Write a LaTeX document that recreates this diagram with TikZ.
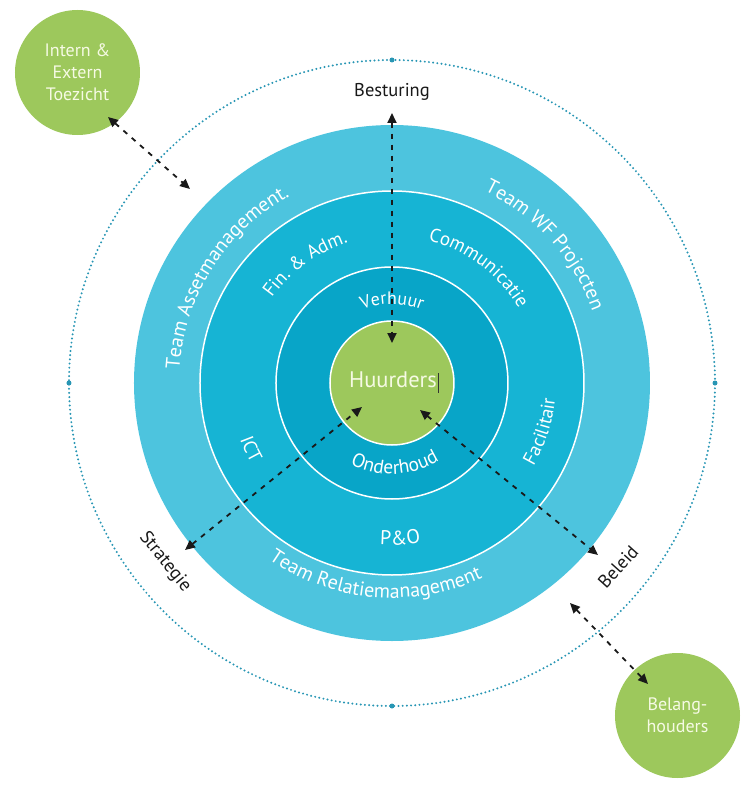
\documentclass[tikz,border=0pt]{standalone}
\usepackage{fontspec}
\setmainfont{PT Sans}
\usetikzlibrary{arrows.meta,decorations.text}
\definecolor{ringA}{RGB}{77,196,222}
\definecolor{ringB}{RGB}{22,180,212}
\definecolor{ringC}{RGB}{8,165,200}
\definecolor{grn}{RGB}{157,200,92}
\definecolor{dotc}{RGB}{40,150,180}
\definecolor{cream}{RGB}{246,250,228}
\newcommand\ringfont{\fontsize{20}{20}\selectfont}
\newcommand\midfont{\fontsize{19}{19}\selectfont}
\newcommand\innfont{\fontsize{18}{18}\selectfont}
\begin{document}
\begin{tikzpicture}[x=1pt,y=1pt,
  dasharrow/.style={line width=1.8pt, dash pattern=on 5pt off 6pt, black!90,
    {Triangle[length=10pt,width=9pt]}-{Triangle[length=10pt,width=9pt]}},
  greenball/.style={circle, fill=grn, minimum size=125pt, inner sep=0pt, align=center,
    text=cream, font=\fontsize{18}{22}\selectfont},
  lbl/.style={font=\fontsize{18.5}{20}\selectfont, text=black!90},
  ringline/.style={white, line width=1.5pt},
]
\useasboundingbox (-392,-405) rectangle (363,383);
% rings
\fill[ringA] (0,0) circle (258pt);
\fill[ringB] (0,0) circle (192pt);
\fill[ringC] (0,0) circle (116pt);
\node[circle, fill=grn, minimum size=124pt, inner sep=0pt] (hub) at (0,0) {};
\draw[ringline] (0,0) circle (192pt);
\draw[ringline] (0,0) circle (116pt);
\draw[ringline] (0,0) circle (62pt);
% outer dotted circle
\draw[dotc, line width=2.2pt, dash pattern=on 0pt off 4.2pt, line cap=round] (0,0) circle (323pt);
\foreach \a in {0,90,180,270} \fill[dotc] (\a:323pt) circle (2.5pt);
% ring texts, outer ring
\path[decorate, decoration={text along path, text align=center, text color=white,
  text={|\ringfont|Team Assetmanagement.}}] (185:213pt) arc (185:110:213pt);
\path[decorate, decoration={text along path, text align=center, text color=white,
  text={|\ringfont|Team WF Projecten}}] (75:213pt) arc (75:9:213pt);
\path[decorate, decoration={text along path, text align=center, text color=white,
  text={|\ringfont|Team Relatiemanagement}}] (217:215pt) arc (217:313:215pt);
% middle ring
\path[decorate, decoration={text along path, text align=center, text color=white,
  text={|\midfont|Fin. {\&} Adm.}}] (155:147pt) arc (155:97:147pt);
\path[decorate, decoration={text along path, text align=center, text color=white,
  text={|\midfont|Communicatie}}] (88:147pt) arc (88:18:147pt);
\path[decorate, decoration={text along path, text align=center, text color=white,
  text={|\midfont|ICT}}] (185:162pt) arc (185:225:162pt);
\path[decorate, decoration={text along path, text align=center, text color=white,
  text={|\midfont|Facilitair}}] (-50:164pt) arc (-50:14:164pt);
\path[decorate, decoration={text along path, text align=center, text color=white,
  text={|\fontsize{20}{20}\selectfont|P{\&}O}}] (250:162pt) arc (250:296:162pt);
% inner ring
\path[decorate, decoration={text along path, text align=center, text color=white,
  text={|\innfont|Verhuur}}] (135:79pt) arc (135:45:79pt);
\path[decorate, decoration={text along path, text align=center, text color=white,
  text={|\fontsize{19.5}{19.5}\selectfont|Onderhoud}}] (205:91pt) arc (205:339:91pt);
% centre
\node[text=cream, font=\fontsize{22.5}{22.5}\selectfont] (hl) at (1,3) {Huurders};
\coordinate (cur1) at (46,10);
\coordinate (cur2) at (46,-10);
\draw[black!80, line width=0.8pt] (cur1) -- (cur2);
% outer balls
\node[greenball] (toez) at (-314.5,310.5) {Intern \&\\Extern\\Toezicht};
\node[greenball] (belh) at (285.5,-332.5) {Belang-\\houders};
% labels
\node[lbl] (best) at (0,291) {Besturing};
\node[lbl, rotate=-51] (strat) at (-227,-179) {Strategie};
\node[lbl, rotate=48] (bel) at (226,-184) {Beleid};
% arrows
\coordinate (a1) at (-284,266);
\coordinate (a2) at (-202,194);
\coordinate (b1) at (0,270);
\coordinate (b2) at (0,40);
\coordinate (s1) at (-207,-167);
\coordinate (s2) at (-30,-24);
\coordinate (l1) at (28,-27);
\coordinate (l2) at (206,-172);
\coordinate (h1) at (178,-220);
\coordinate (h2) at (256,-301);
\draw[dasharrow] (a1) -- (a2);
\draw[dasharrow] (b1) -- (b2);
\draw[dasharrow] (s1) -- (s2);
\draw[dasharrow] (l1) -- (l2);
\draw[dasharrow] (h1) -- (h2);
\end{tikzpicture}
\end{document}
